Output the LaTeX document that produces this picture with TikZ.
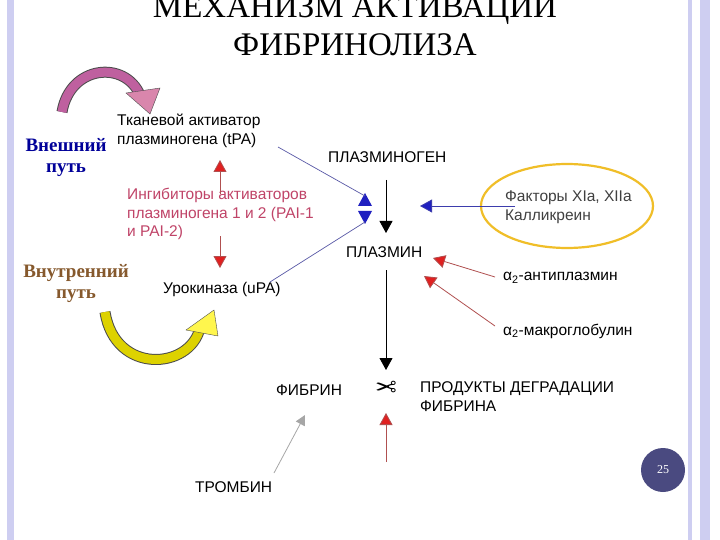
\documentclass[tikz,border=0pt]{standalone}
\usepackage{fontspec}
\setmainfont{Liberation Serif}
\setsansfont{Liberation Sans}
\newfontfamily\symf{DejaVu Sans}
\usetikzlibrary{arrows.meta}
\definecolor{pai}{HTML}{C04468}
\definecolor{blu}{HTML}{2020C0}
\definecolor{redd}{HTML}{E02020}
\definecolor{ell}{HTML}{F0BE28}
\definecolor{pgc}{HTML}{4A4A80}
\begin{document}
\begin{tikzpicture}[x=1pt,y=-1pt,
  lab/.style={font=\sffamily\fontsize{15.5}{18.5}\selectfont, inner sep=0pt, align=left},
  captext/.style={font=\sffamily\fontsize{15.5}{19}\selectfont, inner sep=0pt, align=left},
  blk/.style={-{Triangle[length=12pt,width=13pt]}, line width=0.8pt},
  redarr/.style={-{Triangle[length=12pt,width=13pt,fill=redd]}, line width=0.8pt, draw=redd!50!gray},
  bluarr/.style={-{Triangle[length=12pt,width=13pt,fill=blu]}, line width=0.8pt, draw=blu!70!gray},
  thinln/.style={draw=gray!70!blue, line width=0.7pt}]
\useasboundingbox (0,0) rectangle (720,540);
\fill[white] (0,0) rectangle (720,540);
% frame bars
\fill[gray!45!blue!25] (7,0) rectangle (14,540);
\fill[gray!45!blue!25] (688,0) rectangle (692,540);
\fill[gray!45!blue!25] (700,0) rectangle (710,540);
% title
\node[font=\fontsize{33}{36}\selectfont] (t1) at (355,10) {МЕХАНИЗМ АКТИВАЦИИ};
\node[font=\fontsize{33}{36}\selectfont] (t2) at (355,45) {ФИБРИНОЛИЗА};
% side labels
\node[font=\bfseries\fontsize{19}{21}\selectfont, text=blue!60!black, align=center] (ext) at (66,158) {Внешний\\путь};
\node[font=\bfseries\fontsize{19}{21}\selectfont, text=brown!70!black, align=center] (int) at (76,284) {Внутренний\\путь};
% curved arrows
\coordinate (pa) at (62,112);
\draw[line width=11pt, black!70] (pa) .. controls (70,65) and (125,60) .. (140,95);
\draw[line width=9pt, violet!50!pink] (pa) .. controls (70,65) and (125,60) .. (140,95);
\fill[violet!30!pink, draw=black!70] (126,93) -- (160,88) -- (150,114) -- cycle;
\coordinate (ya) at (105,312);
\draw[line width=11pt, black!70] (ya) .. controls (115,375) and (190,370) .. (200,328);
\draw[line width=9pt, yellow!70!olive] (ya) .. controls (115,375) and (190,370) .. (200,328);
\fill[yellow!70, draw=black!70] (186,330) -- (218,336) -- (214,310) -- cycle;
% left nodes
\node[lab, anchor=west] (tpa) at (117,131) {Тканевой активатор\\плазминогена (tPA)};
\node[lab, anchor=west, text=pai] (pai) at (127,214) {Ингибиторы активаторов\\плазминогена 1 и 2 (PAI-1\\и PAI-2)};
\node[lab, anchor=west] (upa) at (163,289) {Урокиназа (uPA)};
\coordinate (pu1) at (220,194); \coordinate (pu2) at (220,160);
\coordinate (pd1) at (220,236); \coordinate (pd2) at (220,268);
\draw[redarr] (pu1) -- (pu2);
\draw[redarr] (pd1) -- (pd2);
% center
\node[captext, anchor=west] (pgn) at (328,157) {ПЛАЗМИНОГЕН};
\node[captext, anchor=west] (pln) at (346,252) {ПЛАЗМИН};
\coordinate (tb1) at (365,196); \coordinate (tb2) at (365,222);
\fill[blu] (358,206) -- (372,206) -- (365,193) -- cycle;
\fill[blu] (358,211) -- (372,211) -- (365,224) -- cycle;
\draw[thinln] (278,147) -- (tb1);
\draw[thinln] (270,282) -- (tb2);
\coordinate (a1) at (386,180); \coordinate (a2) at (386,233);
\draw[blk] (a1) -- (a2);
\coordinate (a3) at (386,270); \coordinate (a4) at (386,370);
\draw[blk] (a3) -- (a4);
% factors
\draw[draw=ell, line width=2.2pt] (567,206) ellipse (86pt and 42pt);
\node[lab, anchor=west, text=black!75] (fac) at (505,207) {Факторы XIa, XIIa\\Калликреин};
\coordinate (fb1) at (515,206); \coordinate (fb2) at (420,206);
\draw[bluarr] (fb1) -- (fb2);
\node[lab, anchor=west] (anti) at (503,278) {α\textsubscript{2}-антиплазмин};
\node[lab, anchor=west] (macro) at (503,331) {α\textsubscript{2}-макроглобулин};
\coordinate (an) at (495,277); \coordinate (mc) at (495,326);
\draw[redarr] (an) -- (433,258);
\draw[redarr] (mc) -- (424,276);
% bottom
\node[captext, anchor=west] (fib) at (276,390) {ФИБРИН};
\node[font=\symf\fontsize{26}{26}\selectfont, xscale=-1] (sc) at (386,389) {✂};
\node[captext, anchor=west] (fdp) at (420,397) {ПРОДУКТЫ ДЕГРАДАЦИИ\\ФИБРИНА};
\coordinate (r1) at (386,462); \coordinate (r2) at (386,413);
\draw[redarr] (r1) -- (r2);
\node[lab, anchor=west] (thr) at (195,487) {ТРОМБИН};
\coordinate (th) at (274,473);
\draw[-{Triangle[length=10pt,width=10pt]}, line width=0.8pt, gray!70] (th) -- (305,415);
% page number
\node[circle, fill=pgc, minimum size=44pt, inner sep=0pt, text=white, font=\fontsize{12}{13}\selectfont] (pg) at (663,470) {25};
\end{tikzpicture}
\end{document}
